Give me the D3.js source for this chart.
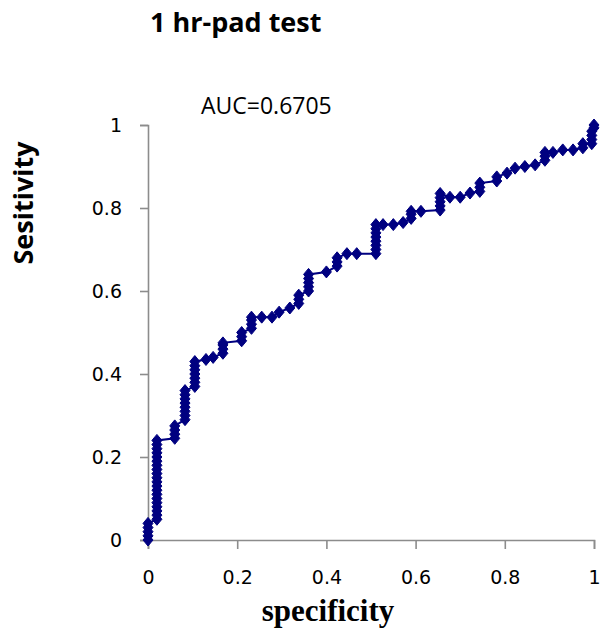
<!DOCTYPE html>
<html>
<head>
<meta charset="utf-8">
<script src="https://cdn.jsdelivr.net/npm/d3@7"></script>
<style>
  body { margin: 0; background: #fff; }
</style>
</head>
<body>
<script>
// ROC points (specificity axis, sensitivity)
var specificity = [
  0, 0, 0, 0, 0,
  0.02, 0.02, 0.02, 0.02, 0.02, 0.02, 0.02, 0.02, 0.02, 0.02,
  0.02, 0.02, 0.02, 0.02, 0.02, 0.02, 0.02, 0.02, 0.02, 0.02,
  0.06, 0.06, 0.06, 0.06,
  0.083, 0.083, 0.083, 0.083, 0.083, 0.083, 0.083, 0.083,
  0.105, 0.105, 0.105, 0.105, 0.105, 0.105, 0.105,
  0.13, 0.146,
  0.168, 0.168, 0.168, 0.168,
  0.21, 0.21, 0.21,
  0.232, 0.232, 0.232, 0.232,
  0.255, 0.278, 0.294, 0.318,
  0.338, 0.338, 0.338,
  0.36, 0.36, 0.36, 0.36, 0.36,
  0.40,
  0.424, 0.424, 0.424,
  0.446, 0.468,
  0.511, 0.511, 0.511, 0.511, 0.511, 0.511, 0.511, 0.511,
  0.527, 0.55, 0.572,
  0.59, 0.59, 0.59,
  0.612,
  0.655, 0.655, 0.655, 0.655, 0.655,
  0.677, 0.70, 0.722,
  0.744, 0.744, 0.744,
  0.782, 0.782,
  0.805, 0.823, 0.845, 0.868,
  0.89, 0.89, 0.89,
  0.908, 0.93, 0.953,
  0.975, 0.975,
  0.995, 0.995, 0.995, 0.995, 1, 1
];
var sensitivity = [
  0, 0.01, 0.02, 0.03, 0.04,
  0.05, 0.06, 0.07, 0.08, 0.09, 0.10, 0.11, 0.12, 0.13, 0.14,
  0.15, 0.16, 0.17, 0.18, 0.19, 0.20, 0.21, 0.22, 0.23, 0.24,
  0.245, 0.255, 0.265, 0.275,
  0.29, 0.30, 0.31, 0.32, 0.33, 0.34, 0.35, 0.36,
  0.37, 0.38, 0.39, 0.40, 0.41, 0.42, 0.43,
  0.435, 0.44,
  0.45, 0.46, 0.47, 0.475,
  0.48, 0.49, 0.50,
  0.51, 0.52, 0.53, 0.537,
  0.537, 0.537, 0.549, 0.559,
  0.57, 0.58, 0.59,
  0.60, 0.61, 0.62, 0.63, 0.64,
  0.646,
  0.66, 0.67, 0.68,
  0.69, 0.69,
  0.69, 0.70, 0.71, 0.72, 0.73, 0.74, 0.75, 0.76,
  0.76, 0.76, 0.765,
  0.775, 0.785, 0.792,
  0.792,
  0.795, 0.805, 0.815, 0.825, 0.835,
  0.826, 0.826, 0.836,
  0.84, 0.85, 0.86,
  0.865, 0.875,
  0.884, 0.896, 0.90, 0.904,
  0.915, 0.925, 0.934,
  0.934, 0.94, 0.94,
  0.945, 0.955,
  0.955, 0.965, 0.975, 0.985, 0.993, 1
];
var xTicks = [0, 0.2, 0.4, 0.6, 0.8, 1];
var yTicks = [0, 0.2, 0.4, 0.6, 0.8, 1];
var titleText = "1 hr-pad test";
var aucText = "AUC=0.6705";
var xLabel = "specificity";
var yLabel = "Sesitivity";

var W = 601, H = 636;
var svg = d3.select("body").append("svg")
    .attr("width", W).attr("height", H);

var x = d3.scaleLinear().domain([0, 1]).range([148, 594]);
var y = d3.scaleLinear().domain([0, 1]).range([540, 125]);

var axisColor = "#8c8c8c";
var tickFont = "DejaVu Sans, Verdana, sans-serif";

// x axis
var gx = svg.append("g").attr("transform", "translate(0,540)")
    .call(d3.axisBottom(x).tickValues(xTicks).tickSize(9).tickPadding(22)
        .tickFormat(function(d){ return d3.format("")(d); }));
// y axis
var gy = svg.append("g").attr("transform", "translate(148,0)")
    .call(d3.axisLeft(y).tickValues(yTicks).tickSize(8).tickPadding(18)
        .tickFormat(function(d){ return d3.format("")(d); }));

[gx, gy].forEach(function(g) {
    g.select(".domain").attr("stroke", axisColor).attr("stroke-width", 1.6);
    g.selectAll(".tick line").attr("stroke", axisColor).attr("stroke-width", 1.6);
    g.selectAll(".tick text").attr("fill", "#000")
        .style("font-family", tickFont).style("font-size", "19px");
});

// curve
var pts = specificity.map(function(d, i){ return [d, sensitivity[i]]; });
var line = d3.line().x(function(d){ return x(d[0]); }).y(function(d){ return y(d[1]); });
svg.append("path").datum(pts)
    .attr("d", line).attr("fill", "none")
    .attr("stroke", "#000080").attr("stroke-width", 2);

var markerPath = "M0,-6 L5,0 L0,6 L-5,0 Z";
svg.append("g").selectAll("path.mk").data(pts)
    .enter().append("path").attr("class", "mk")
    .attr("d", markerPath)
    .attr("transform", function(d){ return "translate(" + x(d[0]) + "," + y(d[1]) + ")"; })
    .attr("fill", "#000080").attr("stroke", "#000080").attr("stroke-width", 1);

// texts
svg.append("text").attr("x", 150).attr("y", 32)
    .style("font-family", "Open Sans, sans-serif").style("font-weight", "bold")
    .style("font-size", "27px").text(titleText);

svg.append("text").attr("x", 201).attr("y", 114)
    .style("font-family", "Open Sans, sans-serif")
    .style("font-size", "23px").text(aucText);

svg.append("text").attr("transform", "translate(33,203) rotate(-90)")
    .attr("text-anchor", "middle")
    .style("font-family", "Open Sans, sans-serif").style("font-weight", "bold")
    .style("font-size", "27px").text(yLabel);

svg.append("text").attr("x", 328).attr("y", 621)
    .attr("text-anchor", "middle")
    .style("font-family", "Liberation Serif, serif").style("font-weight", "bold")
    .style("font-size", "31px").text(xLabel);
</script>
</body>
</html>
